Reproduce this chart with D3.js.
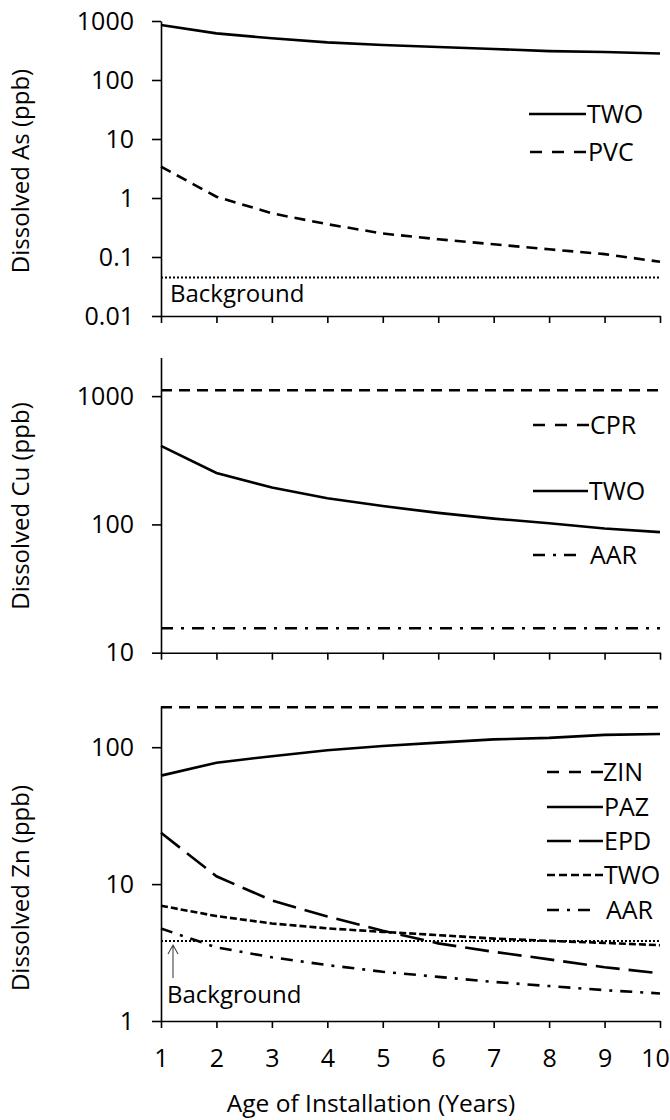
<!DOCTYPE html>
<html>
<head>
<meta charset="utf-8">
<script src="https://cdn.jsdelivr.net/npm/d3@7"></script>
<style>
  body { margin: 0; background: #fff; }
  svg text { font-family: "Open Sans", Lato, sans-serif; fill: #000; }
</style>
</head>
<body>
<svg id="chart" width="670" height="1120"></svg>
<script>
// data
var years = [1, 2, 3, 4, 5, 6, 7, 8, 9, 10];

var asTWO = [855, 617, 509, 435, 392, 363, 335, 309, 298, 282];
var asPVC = [3.4, 1.05, 0.55, 0.36, 0.25, 0.2, 0.164, 0.135, 0.112, 0.083];
var asBackground = 0.045;

var cuCPR = 1110;
var cuTWO = [410, 252, 194, 160, 139, 123, 111, 102, 93, 87];
var cuAAR = 15.5;

var znZIN = 196;
var znPAZ = [62, 77, 86, 95, 102, 108, 114, 117, 123, 125];
var znEPD = [23.7, 11.4, 7.6, 5.8, 4.56, 3.69, 3.2, 2.82, 2.47, 2.23];
var znTWO = [6.95, 5.84, 5.16, 4.75, 4.48, 4.24, 4.0, 3.85, 3.72, 3.58];
var znAAR = [4.74, 3.45, 2.92, 2.56, 2.29, 2.1, 1.93, 1.8, 1.68, 1.59];
var znBackground = 3.84;

var asTicks = [0.01, 0.1, 1, 10, 100, 1000];
var cuTicks = [10, 100, 1000];
var znTicks = [1, 10, 100];

var svg = d3.select("#chart");

var x = d3.scaleLinear().domain([1, 10]).range([161, 660]);

// dash styles (plot lines)
var solid = null,
    dashed = "11,7",
    longDash = "24,9",
    shortDash = "7,3",
    dashDot = "12,8,3,8",
    dotted = "2,2";
// legend samples, sized so they end on a dash at both sides
var lgDashed = "12,10",
    lgLong = "24,8",
    lgShort = "8,4",
    lgDashDot = "12,8,3,8";

function constant(v) { return years.map(function() { return v; }); }

var panels = [
  { y: d3.scaleLog().domain([0.01, 1000]).range([316, 21]),
    ticks: asTicks, title: "Dissolved As (ppb)", titleY: 171,
    series: [
      { values: asTWO, dash: solid },
      { values: asPVC, dash: dashed },
      { values: constant(asBackground), dash: dotted, width: 2 }
    ],
    legend: [
      { name: "TWO", dash: solid, y: 114, x1: 529, x2: 586, tx: 587 },
      { name: "PVC", dash: lgDashed, y: 152, x1: 530, x2: 586, tx: 588 }
    ],
    bg: { x: 170, y: 302 } },
  { y: d3.scaleLog().domain([10, 2000]).range([652.7, 357.5]),
    ticks: cuTicks, title: "Dissolved Cu (ppb)", titleY: 506,
    series: [
      { values: constant(cuCPR), dash: dashed },
      { values: cuTWO, dash: solid },
      { values: constant(cuAAR), dash: dashDot }
    ],
    legend: [
      { name: "CPR", dash: lgDashed, y: 425, x1: 533, x2: 589, tx: 590 },
      { name: "TWO", dash: solid, y: 491, x1: 533, x2: 588, tx: 589 },
      { name: "AAR", dash: lgDashDot, y: 555, x1: 533, x2: 576, tx: 590 }
    ] },
  { y: d3.scaleLog().domain([1, 200]).range([1021, 706]),
    ticks: znTicks, title: "Dissolved Zn (ppb)", titleY: 888, labels: true,
    series: [
      { values: constant(znZIN), dash: dashed },
      { values: znPAZ, dash: solid },
      { values: znEPD, dash: longDash },
      { values: znTWO, dash: shortDash },
      { values: constant(znBackground), dash: dotted, width: 2 },
      { values: znAAR, dash: dashDot }
    ],
    legend: [
      { name: "ZIN", dash: lgDashed, y: 772, x1: 547, x2: 603, tx: 603 },
      { name: "PAZ", dash: solid, y: 807, x1: 547, x2: 603, tx: 604 },
      { name: "EPD", dash: lgLong, y: 841, x1: 547, x2: 603, tx: 604 },
      { name: "TWO", dash: lgShort, y: 875, x1: 547, x2: 603, tx: 604 },
      { name: "AAR", dash: lgDashDot, y: 910, x1: 547, x2: 590, tx: 606 }
    ],
    bg: { x: 167, y: 1003, arrow: true } }
];

panels.forEach(function(p) {
  var g = svg.append("g");
  var y0 = p.y.range()[0];

  // x axis (ticks only, labels on the last panel)
  var xAxis = d3.axisBottom(x).tickValues(years).tickSize(7).tickPadding(21).tickSizeOuter(0)
      .tickFormat(p.labels ? d3.format("d") : "");
  var gx = g.append("g")
    .attr("transform", "translate(0," + y0 + ")")
    .call(xAxis);
  // keep the last label inside the page
  gx.selectAll(".tick text").filter(function(d) { return d === 10; }).attr("dx", "-5");

  // y axis
  g.append("g")
    .attr("transform", "translate(" + x(1) + ",0)")
    .call(d3.axisLeft(p.y).tickValues(p.ticks).tickSize(9).tickPadding(18).tickSizeOuter(0)
      .tickFormat(function(d) { return d3.format("~g")(d); }));

  g.selectAll(".domain, .tick line")
    .attr("stroke", "#000")
    .attr("stroke-width", 1.6);
  g.selectAll(".tick text")
    .style("font-size", "25px");

  // y title
  g.append("text")
    .attr("transform", "rotate(-90)")
    .attr("x", -p.titleY)
    .attr("y", 21)
    .attr("dy", "0.35em")
    .style("text-anchor", "middle")
    .style("font-size", "24px")
    .text(p.title);

  // lines
  var line = d3.line()
    .x(function(d, i) { return x(years[i]); })
    .y(function(d) { return p.y(d); });

  p.series.forEach(function(s) {
    g.append("path")
      .datum(s.values)
      .attr("fill", "none")
      .attr("stroke", "#000")
      .attr("stroke-width", s.width || 2.6)
      .attr("stroke-dasharray", s.dash)
      .attr("d", line);
  });

  // legend (drawn from the text side so the dash touches the label)
  p.legend.forEach(function(l) {
    g.append("line")
      .attr("x1", l.x2).attr("x2", l.x1)
      .attr("y1", l.y).attr("y2", l.y)
      .attr("stroke", "#000")
      .attr("stroke-width", 2.6)
      .attr("stroke-dasharray", l.dash);
    g.append("text")
      .attr("x", l.tx)
      .attr("y", l.y)
      .attr("dy", "0.36em")
      .style("font-size", "25px")
      .text(l.name);
  });

  // background label
  if (p.bg) {
    g.append("text")
      .attr("x", p.bg.x)
      .attr("y", p.bg.y)
      .style("font-size", "24px")
      .text("Background");
    if (p.bg.arrow) {
      var ax = 173, top = p.y(znBackground) + 4, bot = 978;
      g.append("path")
        .attr("d", "M" + ax + "," + bot + "V" + top + "M" + (ax - 5) + "," + (top + 9) + "L" + ax + "," + top + "L" + (ax + 5) + "," + (top + 9))
        .attr("fill", "none")
        .attr("stroke", "#444")
        .attr("stroke-width", 1.1);
    }
  }
});

// x title
svg.append("text")
  .attr("x", 371)
  .attr("y", 1112)
  .style("text-anchor", "middle")
  .style("font-size", "24.5px")
  .text("Age of Installation (Years)");
</script>
</body>
</html>
